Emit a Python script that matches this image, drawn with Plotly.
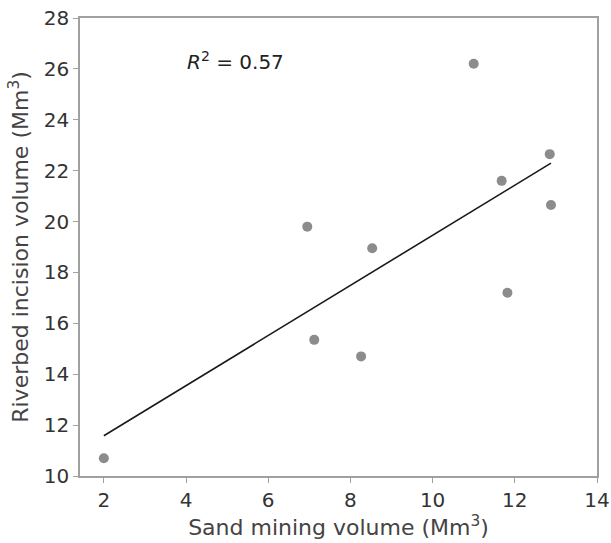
import numpy as np
import plotly.graph_objects as go

sand_mining = [2.0, 6.95, 7.12, 8.26, 8.53, 11.0, 11.68, 11.82, 12.85, 12.88]
incision = [10.7, 19.8, 15.35, 14.7, 18.95, 26.2, 21.6, 17.2, 22.65, 20.65]
x_ticks = [2, 4, 6, 8, 10, 12, 14]
y_ticks = [10, 12, 14, 16, 18, 20, 22, 24, 26, 28]
r2_label = "0.57"

slope, intercept = np.polyfit(sand_mining, incision, 1)
xl = [min(sand_mining), max(sand_mining)]
yl = [slope * v + intercept for v in xl]

font = "DejaVu Sans"
fig = go.Figure()
fig.add_trace(go.Scatter(x=sand_mining, y=incision, mode="markers",
                         marker=dict(color="#8c8c8c", size=10), showlegend=False))
fig.add_trace(go.Scatter(x=xl, y=yl, mode="lines",
                         line=dict(color="#1a1a1a", width=1.6), showlegend=False))
fig.add_annotation(x=5.2, y=26.3, text="<i>R</i><sup>2</sup> = " + r2_label,
                   showarrow=False, font=dict(family=font, size=20, color="#222"))

axis_common = dict(showline=True, linecolor="#a0a0a0", linewidth=1.5, mirror=True,
                   ticks="outside", ticklen=5, tickcolor="#a0a0a0", showgrid=False,
                   zeroline=False, automargin=False,
                   tickfont=dict(family=font, size=20, color="#333"))
fig.update_xaxes(range=[1.42, 14], tickvals=x_ticks,
                 title=dict(text="Sand mining volume (Mm<sup>3</sup>)",
                            font=dict(family=font, size=22, color="#444"), standoff=6),
                 **axis_common)
fig.update_yaxes(range=[10, 28], tickvals=y_ticks,
                 title=dict(text="Riverbed incision volume (Mm<sup>3</sup>)",
                            font=dict(family=font, size=22, color="#444"), standoff=9),
                 **axis_common)
fig.update_layout(width=611, height=543, margin=dict(l=80, r=14, t=18, b=67),
                  plot_bgcolor="white", paper_bgcolor="white")
fig.write_html("out.html")
